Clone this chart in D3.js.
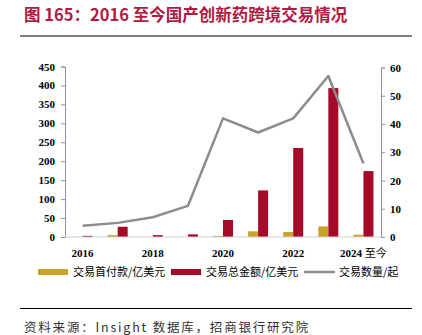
<!DOCTYPE html>
<html><head><meta charset="utf-8">
<script src="https://cdn.jsdelivr.net/npm/d3@7"></script>
<style>body{margin:0;background:#fff}svg{display:block}</style>
</head><body><svg id="c" width="422" height="335"></svg>
<script>
const years = ["2016","2017","2018","2019","2020","2021","2022","2023","2024"];
const tickLabels = {"2016":"2016","2018":"2018","2020":"2020","2022":"2022","2024":"2024"};
const tickSuffix = {"2024":"至今"};
const upfront = [0.5, 5, 0, 0, 3, 15, 13, 28, 6];
const totalValue = [3, 27, 5, 7, 45, 123, 235, 393, 174];
const dealCount = [4, 5, 7, 11, 42, 37, 42, 57, 26];
const leftTicks = [0,50,100,150,200,250,300,350,400,450];
const rightTicks = [0,10,20,30,40,50,60];
const colors = {upfront:"#C9A227", total:"#A50B28", count:"#8C8C8C", title:"#B01A43"};

const svg = d3.select("#c");
const m = {l:65, r:381, t:66.5, b:237};
const x = d3.scaleBand().domain(years).range([m.l, m.r]);
const yL = d3.scaleLinear().domain([0,450]).range([m.b, m.t]);
const yR = d3.scaleLinear().domain([0,60]).range([m.b, m.t + 1]);

// title
svg.append("text").attr("x",24).attr("y",21).attr("fill",colors.title)
  .attr("font-family","'Noto Sans CJK SC'").attr("font-weight","bold").attr("font-size",16.5)
  .text("图 165：2016 至今国产创新药跨境交易情况");
svg.append("line").attr("x1",20).attr("x2",412).attr("y1",36).attr("y2",36).attr("stroke","#000").attr("stroke-width",1.2);

// bars
const bw = 10;
svg.append("g").selectAll("rect").data(years).join("rect")
  .attr("x", d => x(d) + x.bandwidth()/2 - bw)
  .attr("width", bw)
  .attr("y", (d,i) => yL(upfront[i]))
  .attr("height", (d,i) => yL(0) - yL(upfront[i]))
  .attr("fill", colors.upfront);
svg.append("g").selectAll("rect").data(years).join("rect")
  .attr("x", d => x(d) + x.bandwidth()/2)
  .attr("width", bw)
  .attr("y", (d,i) => yL(totalValue[i]))
  .attr("height", (d,i) => yL(0) - yL(totalValue[i]))
  .attr("fill", colors.total);

// line
const line = d3.line().x((d,i) => x(years[i]) + x.bandwidth()/2).y(d => yR(d));
svg.append("path").datum(dealCount).attr("d", line).attr("fill","none")
  .attr("stroke", colors.count).attr("stroke-width",2.5).attr("stroke-linejoin","round");

// axes
const tickFont = g => g.selectAll("text").attr("font-family","'Liberation Serif'").attr("font-weight","bold").attr("font-size",11).attr("fill","#000");
const axL = svg.append("g").attr("transform",`translate(${m.l},0)`)
  .call(d3.axisLeft(yL).tickValues(leftTicks).tickSize(4).tickPadding(6));
axL.selectAll("line,path").attr("stroke","#8A93A6");
axL.call(tickFont);
const axR = svg.append("g").attr("transform",`translate(${m.r},0)`)
  .call(d3.axisRight(yR).tickValues(rightTicks).tickSize(4).tickPadding(5));
axR.selectAll("line,path").attr("stroke","#8A93A6");
axR.call(tickFont);
const axB = svg.append("g").attr("transform",`translate(0,${m.b})`)
  .call(d3.axisBottom(x).tickValues(Object.keys(tickLabels)).tickFormat(d => tickLabels[d]).tickSize(0).tickPadding(12));
axB.select("path").attr("stroke","#D0D0D0").attr("d",`M${m.l},0H${m.r}`);
axB.call(tickFont);
axB.selectAll("text").filter(d => tickSuffix[d]).each(function(d){
  const t = d3.select(this).text(null).attr("text-anchor","start").attr("x",-x.bandwidth()/2 - 6);
  t.append("tspan").text(tickLabels[d] + " ");
  t.append("tspan").attr("font-family","'Noto Sans CJK SC'").attr("font-weight","normal").text(tickSuffix[d]);
});

// legend
const lg = svg.append("g").attr("font-family","'Noto Sans CJK SC'").attr("font-size",11).attr("fill","#000");
const items = [
  {x:38, label:"交易首付款/亿美元", type:"rect", c:colors.upfront},
  {x:171, label:"交易总金额/亿美元", type:"rect", c:colors.total},
  {x:304, label:"交易数量/起", type:"line", c:colors.count}
];
items.forEach(it => {
  if (it.type === "rect") lg.append("rect").attr("x",it.x).attr("y",269).attr("width",30).attr("height",6).attr("fill",it.c);
  else lg.append("line").attr("x1",it.x).attr("x2",it.x+31).attr("y1",272).attr("y2",272).attr("stroke",it.c).attr("stroke-width",2.5);
  lg.append("text").attr("x",it.x+35).attr("y",276).text(it.label);
});

// source
svg.append("line").attr("x1",20).attr("x2",412).attr("y1",308.5).attr("y2",308.5).attr("stroke","#000").attr("stroke-width",1.2);
svg.append("text").attr("x",24).attr("y",332).attr("font-family","'Noto Sans CJK SC'").attr("font-size",12.5)
  .attr("letter-spacing",1.8).attr("fill","#333").text("资料来源：Insight 数据库，招商银行研究院");
</script></body></html>
